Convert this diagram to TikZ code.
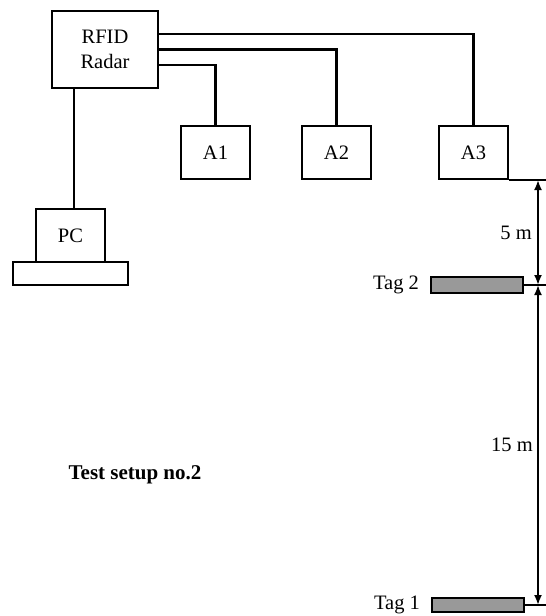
\documentclass[tikz,border=0pt]{standalone}
\usepackage{fontspec}
\setmainfont{Liberation Serif}
\usetikzlibrary{positioning,arrows.meta}

\tikzset{
  unit/.style={draw, line width=2pt, minimum width=69pt, minimum height=53pt, inner sep=0pt},
  link/.style={line width=2.6pt},
  tagbar/.style={draw, line width=1.8pt, fill=black!40, minimum width=92pt, inner sep=0pt},
  extline/.style={line width=1.2pt},
  dimline/.style={line width=1.9pt, {Latex[length=10pt,width=8pt]}-{Latex[length=10pt,width=8pt]}}
}

\begin{document}
\begin{tikzpicture}[x=1pt, y=1pt, font=\fontsize{20.5}{25}\selectfont]
            \useasboundingbox (0,0) rectangle (546,-616);

            % reader and antennas
            \node[unit, minimum width=106pt, minimum height=77pt, align=center] (radar) at (105,-49.5) {RFID\\Radar};
            \node[unit] (a1) at (215.5,-152.5) {A1};
            \node[unit] (a2) at (336.5,-152.5) {A2};
            \node[unit] (a3) at (473.5,-152.5) {A3};

            % computer
            \node[unit] (pc) at (70.5,-235.5) {PC};
            \node[draw, line width=2pt, minimum width=115pt, minimum height=23pt, inner sep=0pt] (pcbase) at (70.5,-273.5) {};

            \draw[link] ([yshift=15.5pt]radar.east) -| (a3.north);
            \draw[link] (radar.east) -| (a2.north);
            \draw[link] ([yshift=-15.5pt]radar.east) -| (a1.north);
            \draw[link] ([xshift=23pt]radar.south west) -- ([xshift=23pt]radar.south west |- pc.north);

            % tags
            \node[tagbar, minimum height=16pt] (tag2) at (477,-285) {};
            \node[tagbar, minimum height=14pt] (tag1) at (478,-605) {};
            \node[left=11pt of tag2, inner sep=0pt] (tag2lbl) {Tag 2};
            \node[left=11pt of tag1, inner sep=0pt] (tag1lbl) {Tag 1};

            % distances
            \coordinate (dimx) at (538,0);
            \coordinate (rim) at (546,0);
            \draw[extline] (a3.south east) -- (a3.south east -| rim);
            \draw[extline] (tag2.east) -- (tag2.east -| rim);
            \draw[extline] (tag1.east) -- (tag1.east -| rim);
            \draw[dimline] (a3.south east -| dimx) -- (tag2.east -| dimx);
            \draw[dimline] (tag2.east -| dimx) -- (tag1.east -| dimx);

            \node[anchor=east, inner sep=0pt] (dist5) at (532,-233) {5 m};
            \node[anchor=east, inner sep=0pt] (dist15) at (533,-445) {15 m};

            \node[font=\fontsize{21}{25}\selectfont\bfseries] (title) at (135,-475) {Test setup no.2};
        \end{tikzpicture}
\end{document}
